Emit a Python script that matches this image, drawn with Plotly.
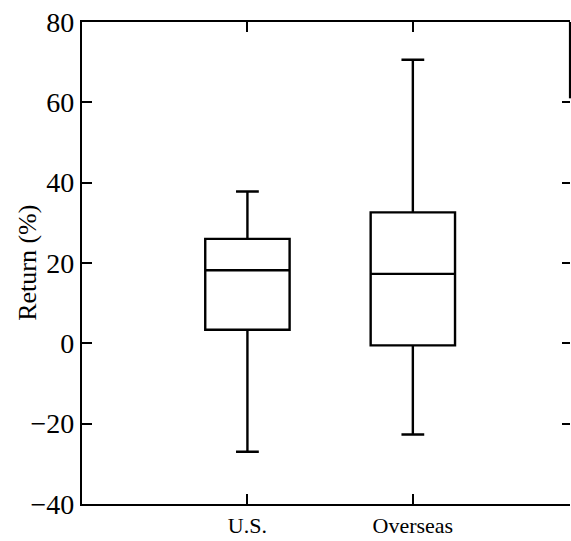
import plotly.graph_objects as go

categories = ["U.S.", "Overseas"]
positions = [1, 2]
lower_whisker = [-27, -22.7]
q1 = [3.4, -0.5]
median = [18.2, 17.3]
q3 = [26, 32.6]
upper_whisker = [37.8, 70.6]
y_ticks = [-40, -20, 0, 20, 40, 60, 80]

FONT = "Liberation Serif"

fig = go.Figure()
fig.add_trace(go.Box(
    x=positions, q1=q1, median=median, q3=q3,
    lowerfence=lower_whisker, upperfence=upper_whisker,
    width=0.51, whiskerwidth=0.27,
    line=dict(color="black", width=2.4),
    fillcolor="rgba(0,0,0,0)",
    boxpoints=False, showlegend=False, hoverinfo="skip",
))
# invisible trace anchoring the top and right tick axes
fig.add_trace(go.Scatter(x=[1], y=[0], xaxis="x2", yaxis="y2", mode="markers",
                         marker=dict(opacity=0), showlegend=False, hoverinfo="skip"))

fig.update_layout(
    width=571, height=541,
    margin=dict(l=82, r=1, t=22, b=37, autoexpand=False),
    paper_bgcolor="white", plot_bgcolor="white",
    font=dict(family=FONT, color="black"),
    xaxis=dict(
        range=[0, 2.95], tickvals=positions, ticktext=categories,
        showline=True, linecolor="black", linewidth=2.2, automargin=False,
        ticks="inside", ticklen=10, tickwidth=2, tickcolor="black",
        showgrid=False, zeroline=False, ticklabelstandoff=0,
        tickfont=dict(family=FONT, size=22, color="black"),
    ),
    xaxis2=dict(
        range=[0, 2.95], tickvals=positions, overlaying="x", side="top",
        showline=True, linecolor="black", linewidth=2.2, automargin=False,
        ticks="inside", ticklen=10, tickwidth=2, tickcolor="black",
        showticklabels=False, showgrid=False, zeroline=False,
    ),
    yaxis=dict(
        range=[-40, 80], tickvals=y_ticks, automargin=False,
        showline=True, linecolor="black", linewidth=2.2,
        ticks="inside", ticklen=10, tickwidth=2, tickcolor="black",
        showgrid=False, zeroline=False,
        tickfont=dict(family=FONT, size=28, color="black"),
    ),
    yaxis2=dict(
        range=[-40, 80], tickvals=y_ticks, overlaying="y", side="right",
        showline=False, ticks="inside", ticklen=8, tickwidth=2, tickcolor="black",
        showticklabels=False, showgrid=False, zeroline=False, automargin=False,
    ),
    annotations=[dict(
        text="Return (%)", textangle=-90, xref="paper", yref="paper",
        x=-0.113, y=0.5, xanchor="center", yanchor="middle", showarrow=False,
        font=dict(family=FONT, size=26, color="black"),
    )],
    shapes=[dict(type="line", xref="x domain", yref="y", x0=1, x1=1, y0=80, y1=61,
                 line=dict(color="black", width=2.2))],
)

fig.write_html("out.html")
